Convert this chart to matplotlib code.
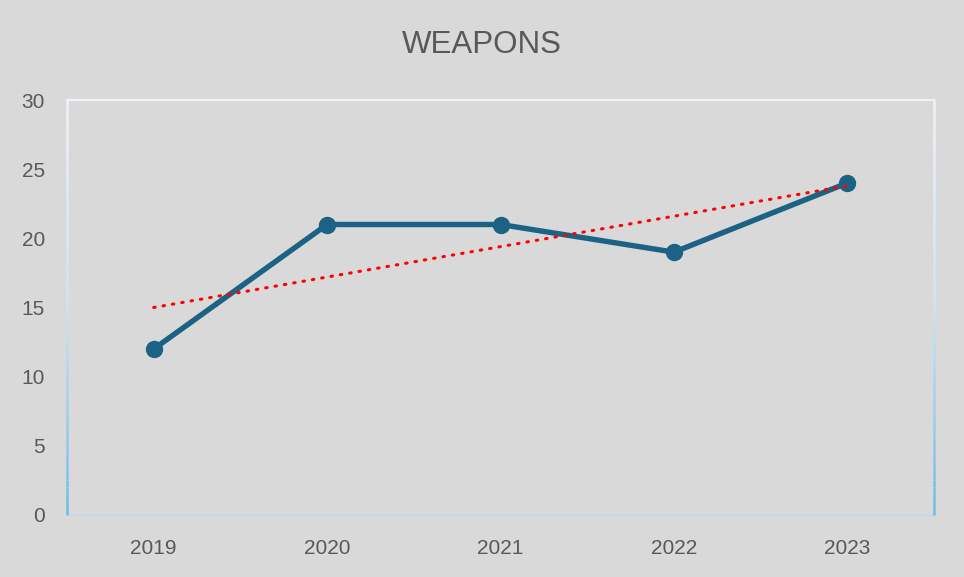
import matplotlib.pyplot as plt
import numpy as np
from matplotlib.collections import LineCollection
from matplotlib.colors import LinearSegmentedColormap

years = ["2019", "2020", "2021", "2022", "2023"]
weapons = [12, 21, 21, 19, 24]
y_ticks = [0, 5, 10, 15, 20, 25, 30]

bg = "#d9d9d9"
text_col = "#595959"
line_col = "#1b6285"

plt.rcParams["font.family"] = ["Liberation Sans", "DejaVu Sans"]

fig = plt.figure(figsize=(9.64, 5.77), dpi=100, facecolor=bg)
ax = fig.add_axes([67 / 964, 1 - 515 / 577, 867 / 964, 415 / 577])
ax.set_facecolor(bg)

x = np.arange(len(years))
ax.plot(x, weapons, color=line_col, linewidth=3.9, marker="o",
        markersize=11.5, solid_capstyle="round", zorder=3)

# linear trendline
slope, intercept = np.polyfit(x, weapons, 1)
trend = slope * x + intercept
ax.plot(x, trend, color="#ff0000", linewidth=2.2, linestyle=(0, (0.5, 2.6)),
        dash_capstyle="round", zorder=4)

ax.set_xlim(-0.5, len(years) - 0.5)
ax.set_ylim(0, 30)
ax.set_xticks(x)
ax.set_xticklabels(years)
ax.set_yticks(y_ticks)
ax.tick_params(length=0, labelsize=15, colors=text_col)
ax.tick_params(axis="x", pad=17)
ax.tick_params(axis="y", pad=16)

for s in ax.spines.values():
    s.set_visible(False)

# frame: light top, gradient sides fading to blue
ax.plot([0, 1], [1, 1], transform=ax.transAxes, color="#eef4f9",
        linewidth=1.6, clip_on=False)
ax.plot([0, 1], [0, 0], transform=ax.transAxes, color="#c6d9e6",
        linewidth=1.4, clip_on=False)
cmap = LinearSegmentedColormap.from_list("side", ["#eef4f9", "#cfe3f0", "#6fbce6"])
t = np.linspace(1, 0, 60)
for xs in (0, 1):
    pts = np.array([[xs, v] for v in t])
    segs = np.stack([pts[:-1], pts[1:]], axis=1)
    lc = LineCollection(segs, cmap=cmap, linewidth=1.8,
                        transform=ax.transAxes, clip_on=False)
    lc.set_array(1 - t[:-1])
    ax.add_collection(lc)

fig.text(0.5, 1 - 45 / 577, "WEAPONS", ha="center", va="center",
         fontsize=22.5, color=text_col)

fig.savefig("out.png", dpi=100, facecolor=bg)
